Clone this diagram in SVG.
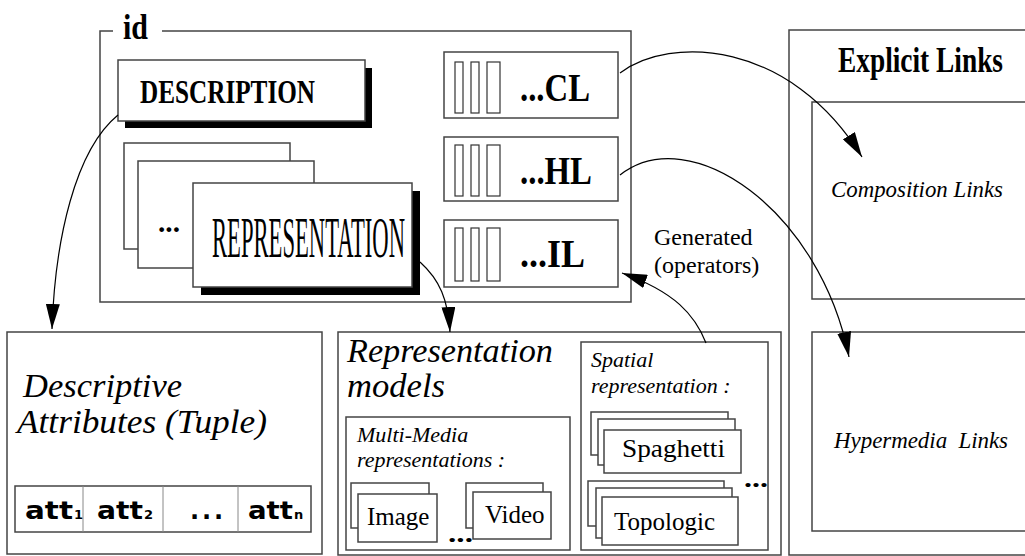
<svg xmlns="http://www.w3.org/2000/svg" width="1025" height="556" viewBox="0 0 1025 556">
<defs>
<style>
.box{fill:#fff;stroke:#444;stroke-width:1.5}
.thin{fill:#fff;stroke:#333;stroke-width:1.2}
.shadow{fill:#000}
.conn{fill:none;stroke:#000;stroke-width:1.2}
.serif{font-family:"Liberation Serif","Times New Roman",serif;fill:#000}
.it{font-style:italic}
.b{font-weight:bold}
.sans{font-family:"DejaVu Sans","Liberation Sans",sans-serif;font-weight:bold;fill:#000}
</style>
<marker id="ah" viewBox="0 0 25 14" markerWidth="25" markerHeight="14" markerUnits="userSpaceOnUse" refX="25" refY="7" orient="auto">
<path d="M0,0 L25,7 L0,14 z" fill="#000"/>
</marker>
</defs>
<rect width="1025" height="556" fill="#fff"/>

<g id="id-frame">
<path d="M113,31 H100 V302 H631 V31 H162" fill="none" stroke="#444" stroke-width="1.5"/>
<text class="serif b" x="123" y="39" font-size="36" textLength="25" lengthAdjust="spacingAndGlyphs">id</text>
</g>

<g id="description">
<rect class="shadow" x="125" y="68" width="247" height="60"/>
<rect class="box" x="118" y="60" width="247" height="61"/>
<text class="serif b" x="140" y="103" font-size="33" textLength="175" lengthAdjust="spacingAndGlyphs">DESCRIPTION</text>
</g>

<g id="representation">
<rect class="box" x="124" y="143" width="166" height="106"/>
<rect class="box" x="138" y="161" width="176" height="107"/>
<text class="serif b" x="158" y="232" font-size="30" textLength="22" lengthAdjust="spacingAndGlyphs">...</text>
<rect class="shadow" x="201" y="191" width="219" height="104"/>
<rect class="box" x="193" y="183" width="219" height="104"/>
<text class="serif" x="212" y="257" font-size="58" textLength="193" lengthAdjust="spacingAndGlyphs">REPRESENTATION</text>
</g>

<g id="cl">
<rect class="box" x="444" y="52" width="174" height="66"/>
<rect class="thin" x="455" y="62" width="8" height="51"/>
<rect class="thin" x="471" y="62" width="8" height="51"/>
<rect class="thin" x="487" y="62" width="13" height="51"/>
<text class="serif b" x="520" y="101" font-size="40" textLength="70" lengthAdjust="spacingAndGlyphs">...CL</text>
</g>
<g id="hl">
<rect class="box" x="444" y="137" width="174" height="64"/>
<rect class="thin" x="455" y="145" width="8" height="51"/>
<rect class="thin" x="471" y="145" width="8" height="51"/>
<rect class="thin" x="487" y="145" width="13" height="51"/>
<text class="serif b" x="520" y="184" font-size="40" textLength="72" lengthAdjust="spacingAndGlyphs">...HL</text>
</g>
<g id="il">
<rect class="box" x="444" y="220" width="174" height="67"/>
<rect class="thin" x="455" y="228" width="8" height="53"/>
<rect class="thin" x="471" y="228" width="8" height="53"/>
<rect class="thin" x="487" y="228" width="13" height="53"/>
<text class="serif b" x="520" y="267" font-size="40" textLength="65" lengthAdjust="spacingAndGlyphs">...IL</text>
</g>

<g id="descriptive-attributes">
<rect class="box" x="7" y="332" width="315" height="222"/>
<text class="serif it" x="23" y="397" font-size="33" textLength="159" lengthAdjust="spacingAndGlyphs">Descriptive</text>
<text class="serif it" x="17" y="433" font-size="33" textLength="250" lengthAdjust="spacingAndGlyphs">Attributes (Tuple)</text>
<rect class="box" x="15" y="486" width="296" height="46"/>
<line x1="83" y1="486" x2="83" y2="532" stroke="#888" stroke-width="1"/>
<line x1="163" y1="486" x2="163" y2="532" stroke="#888" stroke-width="1"/>
<line x1="238" y1="486" x2="238" y2="532" stroke="#888" stroke-width="1"/>
<text class="sans" x="25" y="519" font-size="24" textLength="48" lengthAdjust="spacingAndGlyphs">att</text>
<text class="sans" x="74" y="519" font-size="13">1</text>
<text class="sans" x="97" y="519" font-size="24" textLength="46" lengthAdjust="spacingAndGlyphs">att</text>
<text class="sans" x="144" y="519" font-size="13">2</text>
<text class="sans" x="190" y="519" font-size="24" textLength="33" lengthAdjust="spacing">...</text>
<text class="sans" x="248" y="519" font-size="24" textLength="45" lengthAdjust="spacingAndGlyphs">att</text>
<text class="sans" x="294" y="519" font-size="13">n</text>
</g>

<g id="representation-models">
<rect class="box" x="338" y="332" width="443" height="223"/>
<text class="serif it" x="347" y="362" font-size="33" textLength="206" lengthAdjust="spacingAndGlyphs">Representation</text>
<text class="serif it" x="347" y="397" font-size="33" textLength="98" lengthAdjust="spacingAndGlyphs">models</text>
</g>

<g id="multimedia">
<rect class="box" x="346" y="417" width="224" height="133"/>
<text class="serif it" x="357" y="442" font-size="22">Multi-Media</text>
<text class="serif it" x="357" y="467" font-size="22">representations :</text>
<rect class="box" x="351" y="483" width="78" height="45"/>
<rect class="box" x="358" y="494" width="79" height="48"/>
<text class="serif" x="367" y="525" font-size="25">Image</text>
<text class="serif b" x="448" y="542" font-size="26" textLength="25" lengthAdjust="spacingAndGlyphs">...</text>
<rect class="box" x="466" y="483" width="77" height="45"/>
<rect class="box" x="473" y="492" width="78" height="47"/>
<text class="serif" x="485" y="523" font-size="25">Video</text>
</g>

<g id="spatial">
<rect class="box" x="581" y="342" width="187" height="208"/>
<text class="serif it" x="591" y="367" font-size="22">Spatial</text>
<text class="serif it" x="591" y="393" font-size="22">representation :</text>
<rect class="box" x="591" y="412" width="137" height="43"/>
<rect class="box" x="598" y="419" width="137" height="46"/>
<rect class="box" x="604" y="430" width="137" height="43"/>
<text class="serif" x="622" y="457" font-size="25" textLength="103" lengthAdjust="spacingAndGlyphs">Spaghetti</text>
<rect class="box" x="588" y="481" width="136" height="45"/>
<rect class="box" x="596" y="488" width="136" height="50"/>
<rect class="box" x="602" y="497" width="136" height="48"/>
<text class="serif" x="614" y="530" font-size="25">Topologic</text>
<text class="serif b" x="744" y="487" font-size="26" textLength="24" lengthAdjust="spacingAndGlyphs">...</text>
</g>

<g id="explicit-links">
<rect class="box" x="789" y="30" width="260" height="525"/>
<text class="serif b" x="838" y="72" font-size="36" textLength="165" lengthAdjust="spacingAndGlyphs">Explicit Links</text>
</g>
<g id="composition-links">
<rect class="box" x="812" y="102" width="240" height="197"/>
<text class="serif it" x="831" y="197" font-size="23" textLength="172" lengthAdjust="spacingAndGlyphs">Composition Links</text>
</g>
<g id="hypermedia-links">
<rect class="box" x="812" y="332" width="240" height="199"/>
<text class="serif it" x="834" y="448" font-size="23" textLength="174" lengthAdjust="spacing" xml:space="preserve">Hypermedia  Links</text>
</g>

<g id="connectors">
<path class="conn" d="M118,115 C75,150 55,240 52,329" marker-end="url(#ah)"/>
<path class="conn" d="M420,262 C440,280 448,300 450,332" marker-end="url(#ah)"/>
<path class="conn" d="M620,73 C670,35 790,40 862,157" marker-end="url(#ah)"/>
<path class="conn" d="M620,175 C690,120 820,210 849,357" marker-end="url(#ah)"/>
<path class="conn" d="M706,343 C695,315 675,292 622,273" marker-end="url(#ah)"/>
<text class="serif" x="654" y="245" font-size="24">Generated</text>
<text class="serif" x="654" y="273" font-size="24">(operators)</text>
</g>
</svg>
